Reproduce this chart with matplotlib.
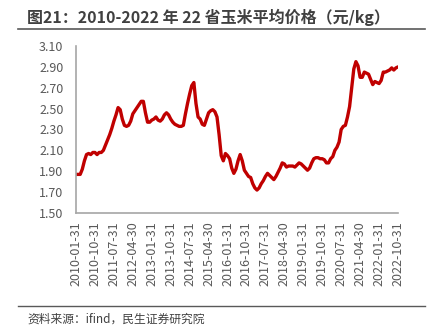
import matplotlib
matplotlib.use("Agg")
import matplotlib.pyplot as plt
import pandas as pd

plt.rcParams['font.family'] = ['Noto Sans CJK SC', 'DejaVu Sans']

title = "图21：2010-2022 年 22 省玉米平均价格（元/kg）"
source = "资料来源：ifind，民生证券研究院"

dates = pd.date_range("2010-01-31", periods=154, freq="ME")
prices = [
    1.87, 1.87, 1.87, 1.92, 2.00, 2.06, 2.07, 2.06, 2.08, 2.08,
    2.06, 2.08, 2.08, 2.10, 2.15, 2.20, 2.25, 2.31, 2.38, 2.44,
    2.51, 2.49, 2.40, 2.34, 2.33, 2.34, 2.38, 2.45, 2.48, 2.51,
    2.54, 2.57, 2.57, 2.46, 2.37, 2.37, 2.39, 2.40, 2.42, 2.39,
    2.38, 2.40, 2.44, 2.46, 2.44, 2.40, 2.37, 2.35, 2.34, 2.33,
    2.33, 2.34, 2.45, 2.55, 2.64, 2.72, 2.75, 2.55, 2.42, 2.40,
    2.35, 2.34, 2.40, 2.46, 2.48, 2.49, 2.47, 2.42, 2.25, 2.05,
    2.00, 2.07, 2.05, 2.02, 1.93, 1.88, 1.92, 2.00, 2.06, 2.00,
    1.91, 1.88, 1.85, 1.84, 1.78, 1.74, 1.72, 1.74, 1.78, 1.81,
    1.85, 1.88, 1.86, 1.84, 1.82, 1.85, 1.89, 1.93, 1.98, 1.97,
    1.94, 1.95, 1.95, 1.95, 1.94, 1.96, 1.98, 1.97, 1.95, 1.93,
    1.91, 1.93, 1.98, 2.02, 2.03, 2.03, 2.02, 2.02, 2.01, 1.98,
    1.98, 2.02, 2.04, 2.10, 2.13, 2.18, 2.30, 2.33, 2.34, 2.42,
    2.52, 2.70, 2.88, 2.95, 2.91, 2.80, 2.80, 2.85, 2.84, 2.83,
    2.78, 2.73, 2.76, 2.75, 2.74, 2.77, 2.85, 2.85, 2.86, 2.87,
    2.89, 2.87, 2.89, 2.90,
]
yticks = [1.50, 1.70, 1.90, 2.10, 2.30, 2.50, 2.70, 2.90, 3.10]
tick_step = 9

labels = [d.strftime("%Y-%m-%d") for d in dates]
x = list(range(len(prices)))

fig = plt.figure(figsize=(4.31, 3.31), dpi=100)
ax = fig.add_axes([76/431, 1-213/331, (398-76)/431, (213-46)/331])

ax.plot(x, prices, color="#C00000", lw=2.4, solid_joinstyle="round", solid_capstyle="round")

ax.set_xlim(0, len(prices) - 1)
ax.set_ylim(1.50, 3.10)
ax.set_yticks(yticks)
ax.set_yticklabels([f"{v:.2f}" for v in yticks])
ax.set_xticks(x[::tick_step])
ax.set_xticklabels(labels[::tick_step], rotation=90)
ax.tick_params(axis="both", length=0, colors="#595959", labelsize=9)
ax.tick_params(axis="y", pad=9)
ax.tick_params(axis="x", pad=6)
for s in ["top", "right"]:
    ax.spines[s].set_visible(False)
for s in ["left", "bottom"]:
    ax.spines[s].set_color("#A6A6A6")
    ax.spines[s].set_linewidth(1.2)

fig.text(27/431, 1-17/331, title, fontsize=11.5, fontweight="bold", color="#404040",
         va="center", ha="left")
fig.add_artist(plt.Line2D([18/431, 425/431], [1-29/331, 1-29/331], color="#595959", lw=1.2))
fig.add_artist(plt.Line2D([18/431, 425/431], [1-306/331, 1-306/331], color="#595959", lw=1.0))
fig.text(27/431, 1-319/331, source, fontsize=8.5, color="#404040", va="center", ha="left")

fig.savefig("out.png", dpi=100)
